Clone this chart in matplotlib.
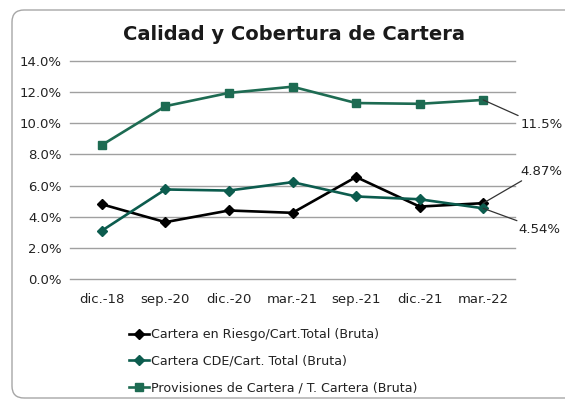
import matplotlib
matplotlib.use("Agg")
import matplotlib.pyplot as plt
from matplotlib.patches import FancyBboxPatch
from matplotlib.transforms import IdentityTransform

categories = ["dic.-18", "sep.-20", "dic.-20", "mar.-21", "sep.-21", "dic.-21", "mar.-22"]
riesgo = [4.8, 3.65, 4.4, 4.25, 6.55, 4.65, 4.87]
cde = [3.1, 5.75, 5.68, 6.22, 5.3, 5.12, 4.54]
provisiones = [8.6, 11.1, 11.95, 12.35, 11.3, 11.25, 11.5]
yticks = [0, 2, 4, 6, 8, 10, 12, 14]
ytick_labels = ["0.0%", "2.0%", "4.0%", "6.0%", "8.0%", "10.0%", "12.0%", "14.0%"]

W, H = 565, 400
fig = plt.figure(figsize=(W / 100, H / 100), dpi=100)

# chart border (pixel coordinates, origin bottom-left)
border = FancyBboxPatch((12, 2), W + 20 - 12, (H - 10) - 2,
                        boxstyle="round,pad=0,rounding_size=12",
                        transform=IdentityTransform(), fill=False,
                        edgecolor="#a6a6a6", linewidth=1.0, clip_on=False)
fig.patches.append(border)

ax = fig.add_axes([70 / W, 1 - 279 / H, (515 - 70) / W, (279 - 61) / H])
x = list(range(len(categories)))

l1, = ax.plot(x, riesgo, color="black", lw=1.9, marker="D", ms=5.2,
              label="Cartera en Riesgo/Cart.Total (Bruta)", zorder=3)
l2, = ax.plot(x, cde, color="#0c5c4e", lw=1.9, marker="D", ms=5.2,
              label="Cartera CDE/Cart. Total (Bruta)", zorder=3)
l3, = ax.plot(x, provisiones, color="#1d6b52", lw=1.9, marker="s", ms=6,
              label="Provisiones de Cartera / T. Cartera (Bruta)", zorder=3)

ax.set_xlim(-0.5, len(categories) - 0.5)
ax.set_ylim(0, 14)
ax.set_yticks(yticks)
ax.set_yticklabels(ytick_labels, fontsize=9.5, color="#222222")
ax.set_xticks(x)
ax.set_xticklabels(categories, fontsize=9.5, color="#222222")
ax.tick_params(axis="both", length=0, pad=6)
ax.tick_params(axis="x", pad=10)
for s in ax.spines.values():
    s.set_visible(False)
ax.grid(axis="y", color="#a0a0a0", lw=1.0)
for gl in ax.get_ygridlines():
    gl.set_clip_on(False)
ax.set_axisbelow(True)

# data labels with leader lines
last = len(categories) - 1
ax.annotate("11.5%", xy=(last, provisiones[-1]), xytext=(last + 0.58, 9.9),
            fontsize=9.5, color="#222222", ha="left", va="center",
            arrowprops=dict(arrowstyle="-", color="#333333", lw=0.9,
                            shrinkA=0, shrinkB=0, relpos=(0.1, 1.0)),
            annotation_clip=False)
ax.annotate("4.87%", xy=(last, riesgo[-1]), xytext=(last + 0.58, 6.9),
            fontsize=9.5, color="#222222", ha="left", va="center",
            arrowprops=dict(arrowstyle="-", color="#333333", lw=0.9,
                            shrinkA=0, shrinkB=0, relpos=(0.15, 0.0)),
            annotation_clip=False)
ax.annotate("4.54%", xy=(last, cde[-1]), xytext=(last + 0.55, 3.15),
            fontsize=9.5, color="#222222", ha="left", va="center",
            arrowprops=dict(arrowstyle="-", color="#333333", lw=0.9,
                            shrinkA=0, shrinkB=0, relpos=(0.15, 1.0)),
            annotation_clip=False)

fig.text(294 / W, 1 - 35 / H, "Calidad y Cobertura de Cartera",
         ha="center", va="center", fontsize=14, fontweight="bold", color="#1a1a1a")

fig.legend(handles=[l1, l2, l3], loc="upper left",
           bbox_to_anchor=(124 / W, 1 - 323 / H), frameon=False,
           fontsize=9.1, handlelength=1.6, handletextpad=0.1,
           labelspacing=1.08, borderaxespad=0, markerscale=0.9,
           labelcolor="#222222")

fig.savefig("out.png", dpi=100)
